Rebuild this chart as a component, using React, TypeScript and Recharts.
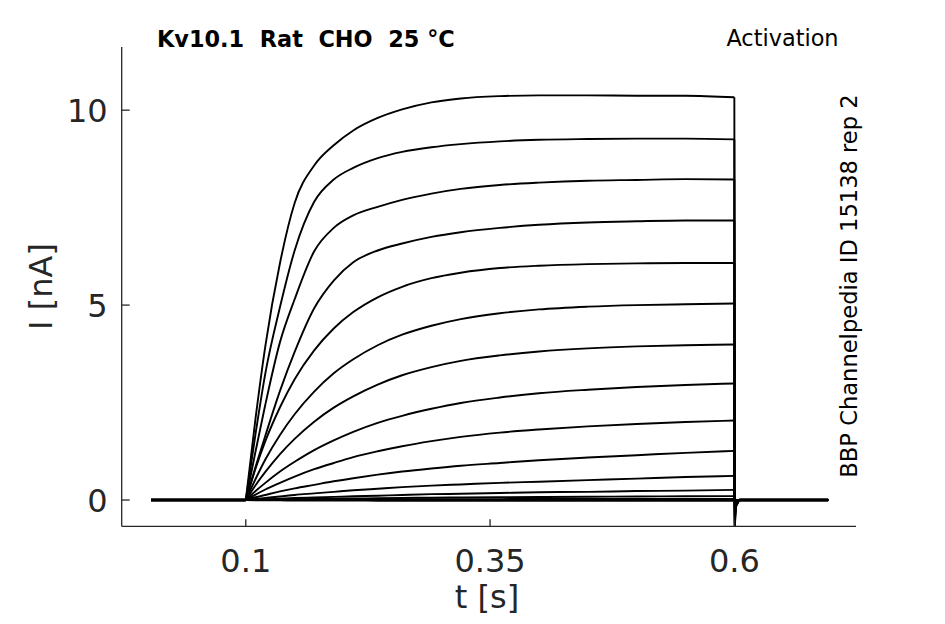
import React from "react";
import { LineChart, Line, XAxis, YAxis } from "recharts";

// time samples (s)
const BASE_T = [0.003, 0.1];
const POST_T = [0.605, 0.696];
const RISE_T = [0.1, 0.11, 0.12, 0.135, 0.15, 0.17, 0.19, 0.21, 0.235, 0.26, 0.29, 0.32, 0.36, 0.4, 0.45, 0.5, 0.55, 0.6];
const TAIL_T = [0.6, 0.6004, 0.6015, 0.605, 0.696];

// current traces (nA) at RISE_T
const tr1 = [0, 2.1, 3.95, 6.08, 7.62, 8.58, 9.1, 9.48, 9.8, 10.02, 10.2, 10.3, 10.36, 10.38, 10.38, 10.37, 10.37, 10.33];
const tr2 = [0, 1.7, 3.25, 4.95, 6.4, 7.65, 8.22, 8.52, 8.77, 8.93, 9.05, 9.13, 9.2, 9.24, 9.26, 9.27, 9.27, 9.25];
const tr3 = [0, 1.25, 2.45, 4.05, 5.15, 6.38, 6.98, 7.3, 7.52, 7.7, 7.86, 7.98, 8.08, 8.14, 8.19, 8.21, 8.23, 8.22];
const tr4 = [0, 0.85, 1.65, 2.8, 3.8, 4.92, 5.63, 6.1, 6.4, 6.58, 6.75, 6.87, 6.98, 7.06, 7.12, 7.15, 7.17, 7.17];
const tr5 = [0, 0.81, 1.51, 2.38, 3.1, 3.84, 4.4, 4.82, 5.2, 5.47, 5.69, 5.83, 5.95, 6.01, 6.05, 6.07, 6.08, 6.08];
const tr6 = [0, 0.54, 1.04, 1.67, 2.2, 2.78, 3.25, 3.61, 3.97, 4.24, 4.47, 4.64, 4.79, 4.89, 4.96, 5.0, 5.02, 5.04];
const tr7 = [0, 0.38, 0.72, 1.18, 1.57, 2.01, 2.37, 2.66, 2.96, 3.2, 3.41, 3.57, 3.71, 3.81, 3.89, 3.94, 3.97, 3.99];
const tr8 = [0, 0.23, 0.44, 0.73, 0.98, 1.28, 1.53, 1.75, 1.98, 2.16, 2.34, 2.49, 2.63, 2.74, 2.83, 2.9, 2.95, 2.99];
const tr9 = [0, 0.14, 0.27, 0.44, 0.6, 0.79, 0.95, 1.1, 1.25, 1.38, 1.51, 1.62, 1.73, 1.81, 1.89, 1.95, 2.0, 2.04];
const tr10 = [0, 0.07, 0.13, 0.22, 0.3, 0.39, 0.48, 0.56, 0.65, 0.73, 0.81, 0.88, 0.95, 1.02, 1.09, 1.15, 1.21, 1.26];
const tr11 = [0, 0.03, 0.055, 0.09, 0.13, 0.17, 0.21, 0.25, 0.29, 0.33, 0.37, 0.4, 0.44, 0.47, 0.51, 0.55, 0.59, 0.62];
const tr12 = [0, 0.01, 0.02, 0.035, 0.05, 0.065, 0.08, 0.095, 0.11, 0.13, 0.15, 0.16, 0.18, 0.2, 0.21, 0.23, 0.24, 0.26];
const tr13 = [0, 0.005, 0.01, 0.015, 0.02, 0.028, 0.035, 0.04, 0.047, 0.053, 0.06, 0.065, 0.072, 0.078, 0.083, 0.09, 0.095, 0.1];
const tr14 = [0, 0, 0.003, 0.005, 0.007, 0.01, 0.012, 0.014, 0.016, 0.018, 0.02, 0.022, 0.024, 0.026, 0.027, 0.028, 0.029, 0.03];
const tr15 = [0, 0, 0, 0, 0, 0, 0, 0, 0, 0, 0, 0, 0, 0, 0, 0, 0, 0];
const tr16 = [0, -0.005, -0.008, -0.01, -0.012, -0.014, -0.015, -0.016, -0.017, -0.018, -0.019, -0.02, -0.02, -0.02, -0.02, -0.02, -0.02, -0.02];
const traces = [tr1, tr2, tr3, tr4, tr5, tr6, tr7, tr8, tr9, tr10, tr11, tr12, tr13, tr14, tr15, tr16];

// tail currents after the pulse (nA)
const tailDip = [-0.75, -0.67, -0.6, -0.52, -0.44, -0.37, -0.29, -0.22, -0.15, -0.09, -0.05, -0.02, -0.01, 0, 0, 0];
const tailRecover = [-0.18, -0.16, -0.14, -0.12, -0.1, -0.08, -0.07, -0.05, -0.04, -0.02, -0.01, 0, 0, 0, 0, 0];

const X_TICKS = [0.1, 0.35, 0.6];
const Y_TICKS = [0, 5, 10];

const baseData = BASE_T.map((t) => ({ t, v: 0 }));
const postData = POST_T.map((t) => ({ t, v: 0 }));
const riseData = traces.map((vals) => RISE_T.map((t, i) => ({ t, v: vals[i] })));
const tailData = traces.map((vals, k) => {
  const vs = [vals[vals.length - 1], tailDip[k], tailRecover[k], 0, 0];
  return TAIL_T.map((t, i) => ({ t, v: vs[i] }));
});

const FONT = "'DejaVu Sans', sans-serif";
const AX = "#262626";

const XTick = (props: any) => {
  const { x, y, payload } = props;
  return (
    <g>
      <line x1={x} y1={y} x2={x} y2={y - 7} stroke={AX} strokeWidth={1.3} />
      <text x={x} y={y + 45.4} textAnchor="middle" fontSize={32} fill={AX} fontFamily={FONT}>
        {String(payload.value)}
      </text>
    </g>
  );
};

const YTick = (props: any) => {
  const { x, y, payload } = props;
  return (
    <g>
      <line x1={x} y1={y} x2={x + 8} y2={y} stroke={AX} strokeWidth={1.3} />
      <text x={x - 14} y={y + 12} textAnchor="end" fontSize={32} fill={AX} fontFamily={FONT}>
        {String(payload.value)}
      </text>
    </g>
  );
};

const lineProps = {
  dataKey: "v",
  stroke: "#000",
  dot: false,
  activeDot: false,
  isAnimationActive: false,
} as const;

export default function App() {
  const W = 929;
  const H = 608;
  return (
    <div style={{ position: "relative", width: W, height: H }}>
      <LineChart width={W} height={H} margin={{ top: 39, right: 81, bottom: 29.7, left: 0 }}>
        <XAxis
          type="number"
          dataKey="t"
          domain={[-0.027, 0.7245]}
          ticks={X_TICKS}
          allowDataOverflow
          height={60}
          tickSize={0}
          tickMargin={0}
          tickLine={false}
          axisLine={{ stroke: AX, strokeWidth: 1.3 }}
          tick={<XTick />}
        />
        <YAxis
          type="number"
          dataKey="v"
          domain={[-0.674, 11.62]}
          ticks={Y_TICKS}
          allowDataOverflow
          width={113.7}
          tickSize={0}
          tickMargin={0}
          tickLine={false}
          axisLine={{ stroke: AX, strokeWidth: 1.3 }}
          tick={<YTick />}
        />
        <Line {...lineProps} data={baseData} type="linear" strokeWidth={3.5} />
        <Line {...lineProps} data={postData} type="linear" strokeWidth={3.5} />
        {riseData.map((d, k) => (
          <Line key={"r" + k} {...lineProps} data={d} type="monotone" strokeWidth={1.9} />
        ))}
        {tailData.map((d, k) => (
          <Line key={"t" + k} {...lineProps} data={d} type="linear" strokeWidth={1.9} />
        ))}
      </LineChart>
      <svg
        width={W}
        height={H}
        style={{ position: "absolute", left: 0, top: 0, pointerEvents: "none" }}
      >
        <text x={149} y={38.7} fontSize={22.4} fontWeight="bold" fill="#000" fontFamily={FONT} style={{ whiteSpace: "pre" }}>
          {"Kv10.1  Rat  CHO  25 °C"}
        </text>
        <text x={774.5} y={38} fontSize={22.4} textAnchor="middle" fill="#000" fontFamily={FONT}>
          Activation
        </text>
        <text
          x={849}
          y={278}
          fontSize={22.6}
          textAnchor="middle"
          fill="#000"
          fontFamily={FONT}
          transform="rotate(-90 849 278)"
        >
          BBP Channelpedia ID 15138 rep 2
        </text>
        <text
          x={43.7}
          y={278.5}
          fontSize={32}
          textAnchor="middle"
          fill={AX}
          fontFamily={FONT}
          transform="rotate(-90 43.7 278.5)"
        >
          I [nA]
        </text>
        <text x={479} y={599.5} fontSize={32} textAnchor="middle" fill={AX} fontFamily={FONT}>
          t [s]
        </text>
      </svg>
    </div>
  );
}
